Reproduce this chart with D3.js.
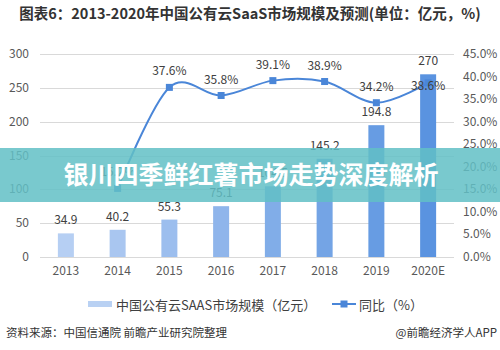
<!DOCTYPE html>
<html><head><meta charset="utf-8">
<script src="https://cdn.jsdelivr.net/npm/d3@7"></script>
<style>body{margin:0;background:#fff;}svg{display:block;font-family:"Noto Sans CJK SC","Noto Sans",sans-serif;}</style>
</head><body><svg id="c" width="500" height="350"></svg>
<script>
const categories = ["2013","2014","2015","2016","2017","2018","2019","2020E"];
const marketSize = [34.9, 40.2, 55.3, 75.1, 104.5, 145.2, 194.8, 270];
const growth = [null, 15.2, 37.6, 35.8, 39.1, 38.9, 34.2, 38.6];
const leftTicks = [0, 50, 100, 150, 200, 250, 300];
const rightTicks = [0, 5, 10, 15, 20, 25, 30, 35, 40, 45];
const titleText = "图表6：2013-2020年中国公有云SaaS市场规模及预测(单位：亿元，%)";
const bannerText = "银川四季鲜红薯市场走势深度解析";
const legendBar = "中国公有云SAAS市场规模（亿元）";
const legendLine = "同比（%）";
const sourceText = "资料来源：中国信通院 前瞻产业研究院整理";
const creditText = "@前瞻经济学人APP";

const svg = d3.select("#c");
const x = d3.scaleBand().domain(categories).range([40, 454]);
const yL = d3.scaleLinear().domain([0, 300]).range([257, 54]);
const yR = d3.scaleLinear().domain([0, 45]).range([257, 54]);
const barColor = d3.scaleLinear().domain([0, categories.length - 1]).range(["#b6cff3", "#5a93e0"]);

// title
svg.append("text").attr("x", 250).attr("y", 19).attr("text-anchor", "middle")
  .attr("font-size", 14.5).attr("font-weight", "bold").attr("fill", "#333").text(titleText);

// gridlines
svg.append("g").selectAll("line").data(leftTicks).join("line")
  .attr("x1", 40).attr("x2", 454).attr("y1", d => Math.round(yL(d)) + 0.5).attr("y2", d => Math.round(yL(d)) + 0.5)
  .attr("stroke", "#d9d9d9").attr("stroke-width", 1);

// left axis labels
svg.append("g").selectAll("text").data(leftTicks).join("text")
  .attr("x", 29).attr("y", d => yL(d) + 4).attr("text-anchor", "end")
  .attr("font-size", 12).attr("fill", "#595959").text(d => d);

// right axis labels
svg.append("g").selectAll("text").data(rightTicks).join("text")
  .attr("x", 463).attr("y", d => yR(d) + 4).attr("text-anchor", "start")
  .attr("font-size", 12).attr("fill", "#595959").text(d => d.toFixed(1) + "%");

// x labels
svg.append("g").selectAll("text").data(categories).join("text")
  .attr("x", d => x(d) + x.bandwidth() / 2).attr("y", 275).attr("text-anchor", "middle")
  .attr("font-size", 12).attr("fill", "#595959").text(d => d);

// bars
const bw = 16;
svg.append("g").selectAll("rect").data(marketSize).join("rect")
  .attr("x", (d, i) => x(categories[i]) + x.bandwidth() / 2 - bw / 2)
  .attr("y", d => yL(d)).attr("width", bw).attr("height", d => yL(0) - yL(d))
  .attr("fill", (d, i) => barColor(i));

// bar labels
svg.append("g").selectAll("text").data(marketSize).join("text")
  .attr("x", (d, i) => x(categories[i]) + x.bandwidth() / 2)
  .attr("y", d => yL(d) - 9).attr("text-anchor", "middle")
  .attr("font-size", 12).attr("fill", "#404040").text(d => d);

// line
const pts = growth.map((g, i) => g == null ? null : [x(categories[i]) + x.bandwidth() / 2, yR(g)]).filter(p => p);
svg.append("path").attr("d", d3.line().curve(d3.curveCardinal.tension(0))(pts))
  .attr("fill", "none").attr("stroke", "#4a86d8").attr("stroke-width", 2);
svg.append("g").selectAll("rect").data(pts).join("rect")
  .attr("x", d => d[0] - 3.5).attr("y", d => d[1] - 3.5).attr("width", 7).attr("height", 7)
  .attr("fill", "#4a86d8");
const growthLabels = growth.map((g, i) => ({g, i})).filter(o => o.g != null);
svg.append("g").selectAll("text").data(growthLabels).join("text")
  .attr("x", o => x(categories[o.i]) + x.bandwidth() / 2)
  .attr("y", o => o.i === categories.length - 1 ? yR(o.g) + 7 : yR(o.g) - 12)
  .attr("text-anchor", "middle").attr("font-size", 12).attr("fill", "#404040")
  .text(o => o.g.toFixed(1) + "%");

// legend
svg.append("rect").attr("x", 88).attr("y", 301).attr("width", 24).attr("height", 6).attr("fill", "#b9d1f3");
svg.append("text").attr("x", 116).attr("y", 309.5).attr("font-size", 13).attr("fill", "#404040").text(legendBar);
svg.append("line").attr("x1", 332).attr("x2", 356).attr("y1", 304).attr("y2", 304).attr("stroke", "#4a86d8").attr("stroke-width", 2);
svg.append("rect").attr("x", 340.5).attr("y", 300.5).attr("width", 7).attr("height", 7).attr("fill", "#4a86d8");
svg.append("text").attr("x", 359).attr("y", 309.5).attr("font-size", 13).attr("fill", "#404040").text(legendLine);

// footer
svg.append("text").attr("x", 6).attr("y", 337).attr("font-size", 11.5).attr("fill", "#333").text(sourceText);
svg.append("text").attr("x", 497).attr("y", 337).attr("text-anchor", "end").attr("font-size", 11.5).attr("fill", "#333").text(creditText);

// banner overlay
svg.append("rect").attr("x", 0).attr("y", 148).attr("width", 500).attr("height", 54)
  .attr("fill", "#62bfc5").attr("fill-opacity", 0.85);
svg.append("text").attr("x", 251).attr("y", 183.5).attr("text-anchor", "middle")
  .attr("font-size", 25).attr("font-weight", "bold").attr("fill", "#fff").text(bannerText);
</script></body></html>
